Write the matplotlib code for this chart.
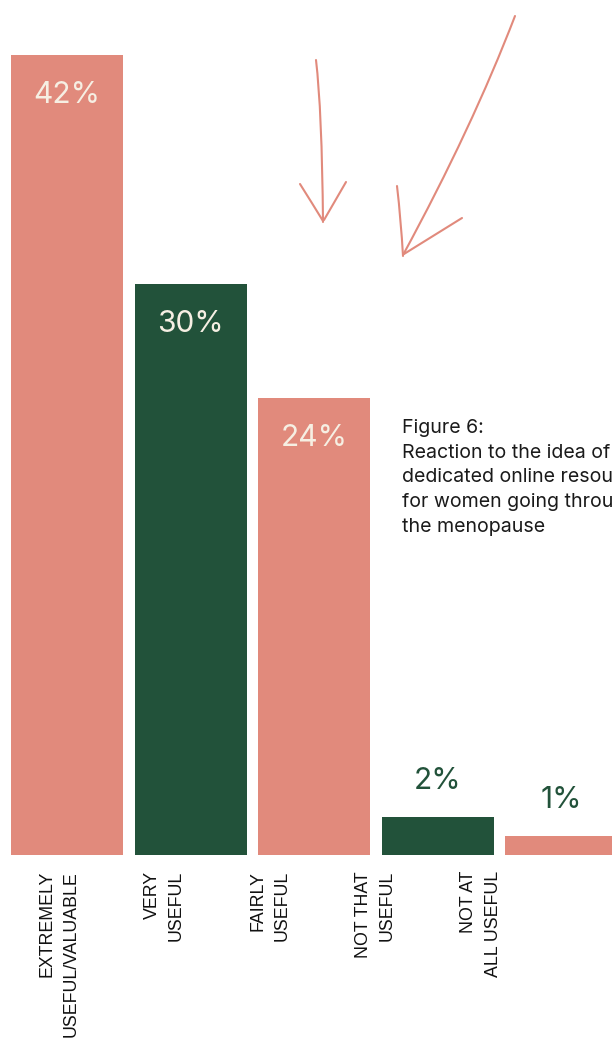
import matplotlib
matplotlib.use('Agg')
import matplotlib.pyplot as plt
from matplotlib.path import Path
from matplotlib.patches import PathPatch

categories = ['EXTREMELY\nUSEFUL/VALUABLE', 'VERY\nUSEFUL', 'FAIRLY\nUSEFUL',
              'NOT THAT\nUSEFUL', 'NOT AT\nALL USEFUL']
values = [42, 30, 24, 2, 1]
labels = ['42%', '30%', '24%', '2%', '1%']
bar_colors = ['#E18A7C', '#22523A', '#E18A7C', '#22523A', '#E18A7C']
caption = 'Figure 6:\nReaction to the idea of a\ndedicated online resource\nfor women going through\nthe menopause'

SALMON = '#E18A7C'
GREEN = '#22523A'
CREAM = '#F6EFE3'

W, H = 612, 1038
fig = plt.figure(figsize=(W / 100, H / 100), dpi=100)


def px(x, y):
    # image pixel (from top-left) -> figure fraction
    return x / W, 1 - y / H


# axes: baseline at y=855px, 19.05 px per percent, 123.5 px per bar
base = 855
ax = fig.add_axes([0, 1 - base / H, 1, base / H])
pitch = 123.5
ax.set_xlim(-67 / pitch, (W - 67) / pitch)
ax.set_ylim(0, base / 19.05)
ax.axis('off')

xs = list(range(len(values)))
ax.bar(xs, values, width=112 / pitch, color=bar_colors)

for x, v, lab in zip(xs, values, labels):
    if v > 10:
        ax.annotate(lab, (x, v), xytext=(0, -40 * 0.72), textcoords='offset points',
                    ha='center', va='center', color=CREAM, fontsize=21.5, family='Inter')
    else:
        ax.annotate(lab, (x, v), xytext=(0, 36 * 0.72), textcoords='offset points',
                    ha='center', va='center', color=GREEN, fontsize=21.5, family='Inter')

# category labels (rotated, placed below the baseline)
for i, cat in enumerate(categories):
    fx, fy = px(59 + 105.5 * i, 871)
    fig.text(fx, fy, cat, rotation=90, ha='center', va='top', multialignment='right',
             fontsize=12.8, family='Liberation Sans', linespacing=1.55, color='#111111')

# caption
fx, fy = px(402, 419)
fig.text(fx, fy, caption, ha='left', va='top', fontsize=14.1, family='Inter',
         linespacing=1.48, color='#1a1a1a')


# hand-drawn arrows
def curve(p0, c, p1):
    verts = [px(*p0), px(*c), px(*p1)]
    path = Path(verts, [Path.MOVETO, Path.CURVE3, Path.CURVE3])
    fig.patches.append(PathPatch(path, transform=fig.transFigure, fill=False,
                                 edgecolor=SALMON, lw=1.5, capstyle='round'))


curve((316, 60), (322, 110), (323, 222))
curve((300, 184), (312, 203), (323, 221))
curve((346, 182), (335, 201), (324, 220))
curve((515, 16), (472, 128), (403, 255))
curve((397, 186), (401, 220), (403, 256))
curve((462, 218), (433, 236), (404, 254))

fig.savefig('out.png', dpi=100)
